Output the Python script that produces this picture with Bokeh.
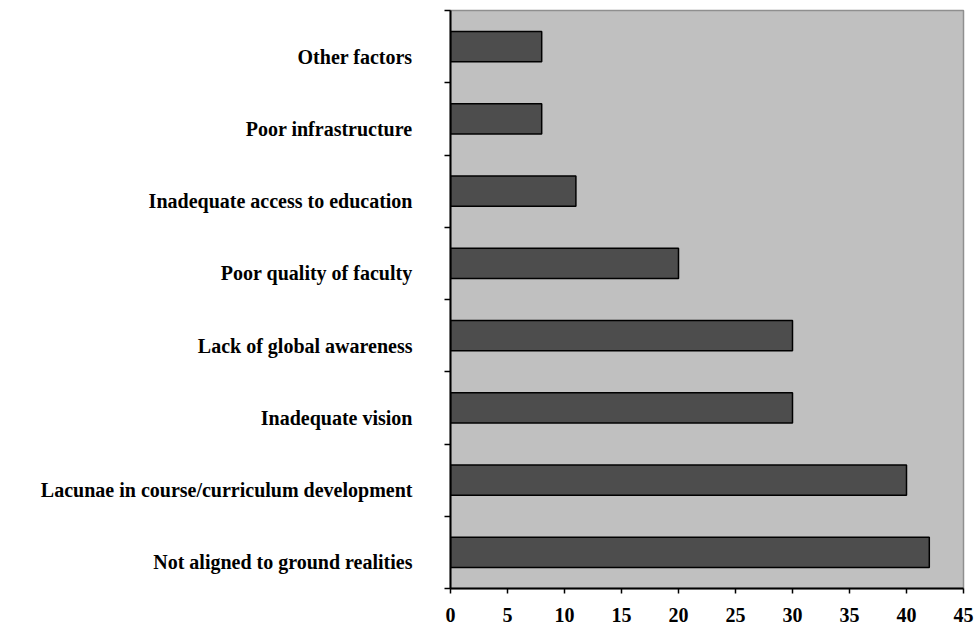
from bokeh.plotting import figure
from bokeh.models import ColumnDataSource, LinearAxis, Range1d, FixedTicker
from bokeh.embed import file_html
from bokeh.resources import INLINE

# Reasons cited, listed bottom to top
categories = [
    "Not aligned to ground realities",
    "Lacunae in course/curriculum development",
    "Inadequate vision",
    "Lack of global awareness",
    "Poor quality of faculty",
    "Inadequate access to education",
    "Poor infrastructure",
    "Other factors",
]
values = [42, 40, 30, 30, 20, 11, 8, 8]
x_ticks = [0, 5, 10, 15, 20, 25, 30, 35, 40, 45]

n = len(categories)
centers = [i + 0.5 for i in range(n)]
source = ColumnDataSource(dict(cat=categories, val=values, y=centers))

FONT = "Liberation Serif"

p = figure(
    width=975, height=626,
    output_backend="svg", toolbar_location=None,
    x_range=Range1d(0, 45), y_range=Range1d(0, n),
    min_border_left=450, min_border_right=12,
    min_border_top=10, min_border_bottom=38,
)
p.background_fill_color = "#C0C0C0"
p.border_fill_color = "white"
p.outline_line_color = "#8F8F8F"
p.outline_line_width = 1.5
p.grid.visible = False

p.hbar(y="y", right="val", left=0, height=0.42, source=source,
       fill_color="#4D4D4D", line_color="black", line_width=1.5)

# x axis
xa = p.xaxis[0]
xa.ticker = FixedTicker(ticks=x_ticks)
xa.minor_tick_line_color = None
xa.axis_line_color = "black"
xa.axis_line_width = 2
xa.major_tick_line_color = "black"
xa.major_tick_line_width = 1.5
xa.major_tick_out = 5
xa.major_tick_in = 0
xa.major_label_standoff = 14
xa.major_label_text_font = FONT
xa.major_label_text_font_style = "bold"
xa.major_label_text_font_size = "20px"
xa.major_label_text_color = "black"

# y axis: ticks between categories
ya = p.yaxis[0]
ya.ticker = FixedTicker(ticks=list(range(n + 1)))
ya.minor_tick_line_color = None
ya.axis_line_color = "black"
ya.axis_line_width = 2
ya.major_tick_line_color = "black"
ya.major_tick_line_width = 1.5
ya.major_tick_out = 6
ya.major_tick_in = 0
ya.major_label_standoff = 0
ya.major_label_overrides = {i: "" for i in range(n + 1)}

# category names on a second left axis whose range is nudged so the
# names sit slightly below the middle of each bar
shift = 0.14
p.extra_y_ranges = {"names": Range1d(shift, n + shift)}
name_axis = LinearAxis(y_range_name="names")
name_axis.ticker = FixedTicker(ticks=centers)
name_axis.major_label_overrides = {c: name for c, name in zip(centers, categories)}
name_axis.axis_line_color = None
name_axis.major_tick_line_color = None
name_axis.minor_tick_line_color = None
name_axis.major_label_standoff = 26
name_axis.major_label_text_font = FONT
name_axis.major_label_text_font_style = "bold"
name_axis.major_label_text_font_size = "20px"
name_axis.major_label_text_color = "black"
p.add_layout(name_axis, "left")

open("out.html", "w").write(file_html(p, INLINE))
